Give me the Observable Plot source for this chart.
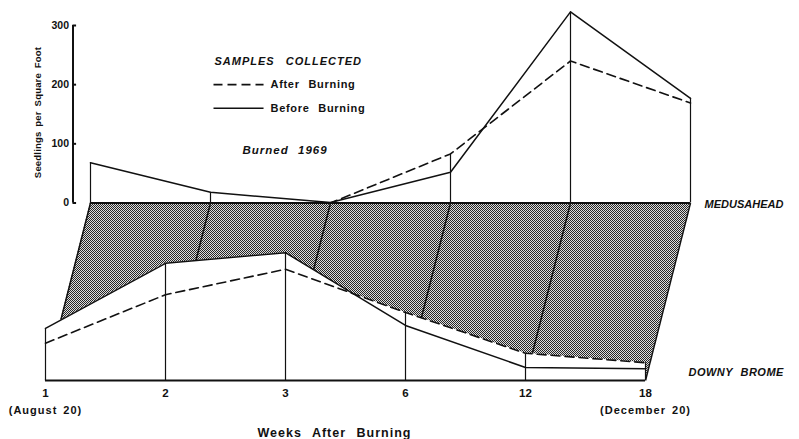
<!DOCTYPE html>
<html><head><meta charset="utf-8">
<script src="https://cdn.jsdelivr.net/npm/d3@7"></script>
<script src="https://cdn.jsdelivr.net/npm/@observablehq/plot@0.6"></script>
<style>
body{margin:0;background:#fff}
#chart svg text{font-family:"Liberation Sans",Arial,sans-serif;font-weight:bold;}
#chart .sp-legend text{letter-spacing:1px;word-spacing:7px}
#chart .sp-key text{letter-spacing:0.7px;word-spacing:5px}
#chart .sp-title text{letter-spacing:1px;word-spacing:6px}
#chart .sp-note text{letter-spacing:1px;word-spacing:2px}
#chart .sp-burn text{letter-spacing:1px;word-spacing:5px}
#chart .sp-downy text{letter-spacing:0.5px;word-spacing:4px}
#chart .sp-yt text{letter-spacing:0.2px;word-spacing:2px}
</style>
</head><body><div id="chart"></div>
<script>
const weeks = ["1","2","3","6","12","18"];
const dateNotes = ["(August 20)","","","","","(December 20)"];
const medusaheadBefore = [68, 18, 1, 52, 323, 177];
const medusaheadAfter  = [0, 0, 0, 83, 240, 169];
const downyBefore = [88, 198, 216, 93, 22, 20];
const downyAfter  = [63, 145, 188, 115, 46, 30];
const yTicks = [0, 100, 200, 300];

const BACK = 300;     // vertical offset of the back (Medusahead) plane, value units
const SHIFT = -0.375; // horizontal offset of the front (Downy brome) plane, week-index units
const AX = -0.146;    // position of the Medusahead y axis, week-index units

const rows = weeks.map((w, i) => ({
  week: w, i, note: dateNotes[i],
  mb: medusaheadBefore[i], ma: medusaheadAfter[i],
  db: downyBefore[i], da: downyAfter[i]
}));
const band = [
  {y: 0, x1: SHIFT, x2: weeks.length - 1 + SHIFT},
  {y: BACK, x1: 0, x2: weeks.length - 1}
];
const ink = "#111";

const chart = Plot.plot({
  width: 799, height: 439,
  x: {type: "linear", domain: [0, 5], range: [90, 690], axis: null},
  y: {type: "linear", domain: [0, 600], range: [380, 25], axis: null},
  marks: [
    // shaded floor between the two planes
    Plot.areaX(band, {y: "y", x1: "x1", x2: "x2", fill: "url(#halftone)"}),
    Plot.link(rows, {x1: "i", y1: BACK, x2: d => d.i + SHIFT, y2: 0, stroke: ink, strokeWidth: 1.5}),
    // Downy brome (front plane)
    Plot.areaY(rows, {x: d => d.i + SHIFT, y1: 0, y2: "db", fill: "white"}),
    Plot.areaY(rows, {x: d => d.i + SHIFT, y1: 0, y2: "da", fill: "white"}),
    Plot.ruleX(rows, {x: d => d.i + SHIFT, y1: 0, y2: d => Math.max(d.db, d.da), stroke: ink, strokeWidth: 1.2}),
    Plot.ruleY([0], {x1: SHIFT, x2: weeks.length - 1 + SHIFT, stroke: ink, strokeWidth: 2.2}),
    Plot.line(rows, {x: d => d.i + SHIFT, y: "db", stroke: ink, strokeWidth: 1.5}),
    Plot.line(rows, {x: d => d.i + SHIFT, y: "da", stroke: ink, strokeWidth: 1.6, strokeDasharray: "9,5"}),
    // Medusahead (back plane)
    Plot.ruleX(rows, {x: "i", y1: BACK, y2: d => BACK + Math.max(d.mb, d.ma), stroke: ink, strokeWidth: 1.2}),
    Plot.ruleY([BACK], {x1: 0, x2: weeks.length - 1, stroke: ink, strokeWidth: 2}),
    Plot.line(rows, {x: "i", y: d => BACK + d.mb, stroke: ink, strokeWidth: 1.5}),
    Plot.line(rows, {x: "i", y: d => BACK + d.ma, stroke: ink, strokeWidth: 1.6, strokeDasharray: "9,5"}),
    // y axis
    Plot.ruleX([AX], {y1: BACK, y2: BACK + 300, stroke: ink, strokeWidth: 2}),
    Plot.ruleY(yTicks, {y: d => d + BACK, x1: AX, x2: AX + 0.03, stroke: ink, strokeWidth: 2}),
    Plot.text(yTicks, {x: AX, y: d => d + BACK, text: d => String(d), textAnchor: "end", dx: -4, fontSize: 10.5, fill: ink}),
    Plot.text(["Seedlings per Square Foot"], {x: -0.442, y: 453, rotate: -90, fontSize: 9.5, fill: ink, className: "sp-yt"}),
    // x labels
    Plot.text(rows, {x: d => d.i + SHIFT, y: 0, dy: 13, text: "week", fontSize: 11.5, fill: ink}),
    Plot.text(rows, {x: d => d.i + SHIFT, y: 0, dy: 30, text: "note", fontSize: 11, fill: ink, className: "sp-note"}),
    Plot.text(["Weeks After Burning"], {x: 2.033, y: 0, dy: 52, fontSize: 12.5, fill: ink, className: "sp-title"}),
    // legend & annotations
    Plot.text(["SAMPLES COLLECTED"], {x: 1.033, y: 539, textAnchor: "start", fontSize: 11, fontStyle: "italic", fill: ink, className: "sp-legend"}),
    Plot.link([0], {x1: 1.025, x2: 1.442, y1: 500, y2: 500, stroke: ink, strokeWidth: 1.6, strokeDasharray: "9,5"}),
    Plot.text(["After Burning"], {x: 1.5, y: 500, textAnchor: "start", fontSize: 11, fill: ink, className: "sp-key"}),
    Plot.link([0], {x1: 1.025, x2: 1.442, y1: 460, y2: 460, stroke: ink, strokeWidth: 1.5}),
    Plot.text(["Before Burning"], {x: 1.5, y: 460, textAnchor: "start", fontSize: 11, fill: ink, className: "sp-key"}),
    Plot.text(["Burned 1969"], {x: 1.267, y: 389, textAnchor: "start", fontSize: 11.5, fontStyle: "italic", fill: ink, className: "sp-burn"}),
    Plot.text(["MEDUSAHEAD"], {x: 5.117, y: 298, textAnchor: "start", fontSize: 11, fontStyle: "italic", fill: ink}),
    Plot.text(["DOWNY BROME"], {x: 4.983, y: 13.5, textAnchor: "start", fontSize: 11, fontStyle: "italic", fill: ink, className: "sp-downy"})
  ]
});

// halftone screen used for the shaded floor
const defs = d3.select(chart).insert("defs", ":first-child");
const pat = defs.append("pattern").attr("id", "halftone").attr("patternUnits", "userSpaceOnUse")
  .attr("width", 2).attr("height", 2);
pat.append("rect").attr("width", 2).attr("height", 2).attr("fill", "#dcdcdc");
pat.append("rect").attr("x", 0).attr("y", 0).attr("width", 1).attr("height", 1).attr("fill", "#262626");
pat.append("rect").attr("x", 1).attr("y", 1).attr("width", 1).attr("height", 1).attr("fill", "#262626");

document.getElementById("chart").appendChild(chart);
</script>
</body></html>
